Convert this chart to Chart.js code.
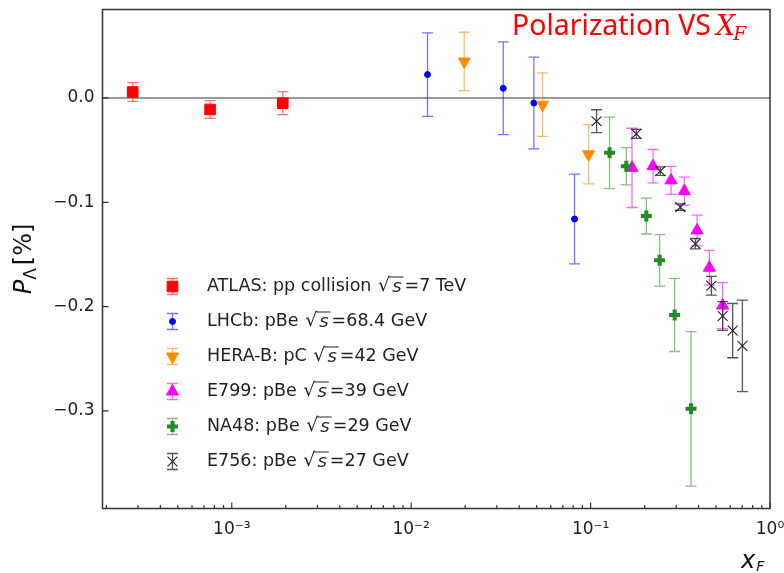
<!DOCTYPE html>
<html>
<head>
<meta charset="utf-8">
<script src="https://cdn.jsdelivr.net/npm/chart.js@4.4.1/dist/chart.umd.min.js"></script>
<style>
  html, body { margin: 0; padding: 0; background: #fff; }
  #wrap { width: 784px; height: 573px; }
</style>
</head>
<body>
<div id="wrap"><canvas id="polChart" width="784" height="573"></canvas></div>
<script>
// --- Du lieu doc tu hinh ---
const atlasX   = [2.805e-4, 7.57e-4, 1.925e-3];
const atlasY   = [0.0057, -0.011, -0.005];
const atlasErr = [0.009, 0.0085, 0.011];

const lhcbX   = [0.01233, 0.0326, 0.0483, 0.0814];
const lhcbY   = [0.0224, 0.0093, -0.0048, -0.116];
const lhcbErr = [0.040, 0.0445, 0.044, 0.043];

const herabX   = [0.01975, 0.054, 0.0975];
const herabY   = [0.035, -0.0064, -0.054];
const herabErr = [0.028, 0.0305, 0.0284];

const e799X   = [0.1702, 0.2229, 0.2808, 0.3332, 0.3922, 0.4592, 0.5447];
const e799Y   = [-0.067, -0.0654, -0.079, -0.0893, -0.127, -0.1627, -0.199];
const e799Err = [0.038, 0.016, 0.0135, 0.0135, 0.0147, 0.0167, 0.022];

const na48X   = [0.1276, 0.1581, 0.2045, 0.2425, 0.294, 0.3631];
const na48Y   = [-0.0526, -0.0654, -0.1132, -0.1556, -0.208, -0.298];
const na48Err = [0.0343, 0.0179, 0.0172, 0.0247, 0.035, 0.074];

const e756X   = [0.108, 0.1798, 0.2447, 0.3164, 0.3836, 0.471, 0.5447, 0.6194, 0.7017];
const e756Y   = [-0.0223, -0.0344, -0.0701, -0.1046, -0.1397, -0.180, -0.209, -0.223, -0.2376];
const e756Err = [0.011, 0.0043, 0.004, 0.003, 0.005, 0.009, 0.0137, 0.026, 0.0439];

const seriesNames  = ['ATLAS: pp collision ', 'LHCb: pBe ', 'HERA-B: pC ', 'E799: pBe ', 'NA48: pBe ', 'E756: pBe '];
const seriesEnergy = ['=7 TeV', '=68.4 GeV', '=42 GeV', '=39 GeV', '=29 GeV', '=27 GeV'];

const yTicks = [0, -0.1, -0.2, -0.3];
const xMajorTicks = [1e-3, 1e-2, 1e-1, 1];
const xMajorLabels = ['10\u207B\u00B3', '10\u207B\u00B2', '10\u207B\u00B9', '10\u2070'];

const X_MIN = 1.903e-4, X_MAX = 1.0;
const Y_MIN = -0.3935, Y_MAX = 0.0848;

// --- Kieu ve ---
const styles = [
    { color: '#ff0000', err: 'rgba(255,0,0,0.55)',   pointStyle: 'rect',     radius: 7.5, rotation: 0,   bw: 1 },
    { color: '#0000ff', err: 'rgba(0,0,255,0.55)',   pointStyle: 'circle',   radius: 3,   rotation: 0,   bw: 1 },
    { color: '#ff8c00', err: 'rgba(255,140,0,0.6)',  pointStyle: 'triangle', radius: 7,   rotation: 180, bw: 1 },
    { color: '#ff00ff', err: 'rgba(255,0,255,0.6)',  pointStyle: 'triangle', radius: 7,   rotation: 0,   bw: 1 },
    { color: '#228b22', err: 'rgba(34,139,34,0.55)', pointStyle: 'cross',    radius: 5.5, rotation: 0,   bw: 4 },
    { color: '#222222', err: 'rgba(30,30,30,0.75)',  pointStyle: 'crossRot', radius: 7,   rotation: 0,   bw: 1.1 }
];

const xs = [atlasX, lhcbX, herabX, e799X, na48X, e756X];
const ys = [atlasY, lhcbY, herabY, e799Y, na48Y, e756Y];
const errs = [atlasErr, lhcbErr, herabErr, e799Err, na48Err, e756Err];

const datasets = xs.map(function (xArr, i) {
    const st = styles[i];
    return {
        label: seriesNames[i] + '\u221As' + seriesEnergy[i],
        data: xArr.map((x, j) => ({ x: x, y: ys[i][j] })),
        errors: errs[i],
        pointStyle: st.pointStyle,
        pointRadius: st.radius,
        pointRotation: st.rotation,
        pointBorderWidth: st.bw,
        backgroundColor: st.color,
        borderColor: st.color,
        order: 5 - i
    };
});

// cac vach phu tren truc x (2..9 x 10^k)
const xMinorTicks = [];
for (let k = -4; k <= -1; k++) {
    for (let m = 2; m <= 9; m++) {
        const v = m * Math.pow(10, k);
        if (v >= X_MIN && v <= X_MAX) xMinorTicks.push(v);
    }
}

const FONT = '"DejaVu Sans", sans-serif';

// === Plugin: error bars, duong 0, khung, tieu de, legend ===
const physPlugin = {
    id: 'physPlugin',
    beforeDatasetsDraw(chart) {
        const { ctx, chartArea: a, scales: { y } } = chart;
        const y0 = y.getPixelForValue(0);
        ctx.save();
        ctx.strokeStyle = 'rgba(120,120,120,0.75)';
        ctx.lineWidth = 2;
        ctx.beginPath();
        ctx.moveTo(a.left, y0);
        ctx.lineTo(a.right, y0);
        ctx.stroke();
        ctx.restore();
    },
    beforeDatasetDraw(chart, args) {
        const ds = chart.data.datasets[args.index];
        const st = styles[args.index];
        const { ctx, chartArea: a, scales: { x, y } } = chart;
        ctx.save();
        ctx.beginPath();
        ctx.rect(a.left, a.top, a.right - a.left, a.bottom - a.top);
        ctx.clip();
        ctx.strokeStyle = st.err;
        ctx.lineWidth = 1.3;
        ds.data.forEach(function (p, j) {
            const px = x.getPixelForValue(p.x);
            const yt = y.getPixelForValue(p.y + ds.errors[j]);
            const yb = y.getPixelForValue(p.y - ds.errors[j]);
            ctx.beginPath();
            ctx.moveTo(px, yt); ctx.lineTo(px, yb);
            ctx.moveTo(px - 5.5, yt); ctx.lineTo(px + 5.5, yt);
            ctx.moveTo(px - 5.5, yb); ctx.lineTo(px + 5.5, yb);
            ctx.stroke();
        });
        ctx.restore();
    },
    afterDraw(chart) {
        const { ctx, chartArea: a, scales: { x, y } } = chart;
        ctx.save();

        // khung
        ctx.strokeStyle = '#333';
        ctx.lineWidth = 1.5;
        ctx.strokeRect(a.left, a.top, a.right - a.left, a.bottom - a.top);

        // vach chia huong vao trong
        ctx.lineWidth = 1.2;
        ctx.beginPath();
        xMajorTicks.forEach(function (v) {
            const px = x.getPixelForValue(v);
            ctx.moveTo(px, a.bottom); ctx.lineTo(px, a.bottom - 6);
        });
        xMinorTicks.forEach(function (v) {
            const px = x.getPixelForValue(v);
            ctx.moveTo(px, a.bottom); ctx.lineTo(px, a.bottom - 3.5);
        });
        yTicks.forEach(function (v) {
            const py = y.getPixelForValue(v);
            ctx.moveTo(a.left, py); ctx.lineTo(a.left + 6, py);
        });
        ctx.stroke();

        // tieu de
        ctx.fillStyle = '#ff0000';
        ctx.textBaseline = 'alphabetic';
        ctx.textAlign = 'left';
        ctx.font = '28.5px "Noto Sans", sans-serif';
        const tx = 512, ty = 35;
        ctx.fillText('Polarization VS', tx, ty);
        let w = ctx.measureText('Polarization VS').width + 5;
        ctx.font = 'italic 27px "DejaVu Serif", serif';
        ctx.fillText('X', tx + w, ty);
        w += ctx.measureText('X').width;
        ctx.font = 'italic 19px "DejaVu Serif", serif';
        ctx.fillText('F', tx + w - 2, ty + 5);

        // nhan truc y
        ctx.fillStyle = '#111';
        ctx.save();
        ctx.translate(31, (a.top + a.bottom) / 2);
        ctx.rotate(-Math.PI / 2);
        ctx.font = 'italic 24px ' + FONT;
        const pW = ctx.measureText('P').width;
        ctx.font = '17px ' + FONT;
        const lW = ctx.measureText('\u039B').width;
        ctx.font = '24px ' + FONT;
        const bW = ctx.measureText('[%]').width;
        let lx = -(pW + lW + bW + 3) / 2;
        ctx.font = 'italic 24px ' + FONT;
        ctx.fillText('P', lx, 0);
        lx += pW;
        ctx.font = '17px ' + FONT;
        ctx.fillText('\u039B', lx, 5);
        lx += lW + 3;
        ctx.font = '24px ' + FONT;
        ctx.fillText('[%]', lx, 0);
        ctx.restore();

        // nhan truc x
        ctx.font = 'italic 24px ' + FONT;
        ctx.fillText('x', 741, 568);
        const xw = ctx.measureText('x').width;
        ctx.font = 'italic 14px ' + FONT;
        ctx.fillText('F', 741 + xw + 1, 571);

        // legend
        const mx = 172.5, tx0 = 207, ly0 = 286.5, dy = 35;
        styles.forEach(function (st, i) {
            const cy = ly0 + i * dy;
            ctx.strokeStyle = st.err;
            ctx.lineWidth = 1.3;
            ctx.beginPath();
            ctx.moveTo(mx, cy - 8); ctx.lineTo(mx, cy + 8);
            ctx.moveTo(mx - 5.5, cy - 8); ctx.lineTo(mx + 5.5, cy - 8);
            ctx.moveTo(mx - 5.5, cy + 8); ctx.lineTo(mx + 5.5, cy + 8);
            ctx.stroke();
            ctx.fillStyle = st.color;
            ctx.strokeStyle = st.color;
            ctx.lineWidth = st.bw;
            Chart.helpers.drawPoint(ctx, {
                pointStyle: st.pointStyle, radius: st.radius, rotation: st.rotation, borderWidth: st.bw
            }, mx, cy);

            ctx.fillStyle = '#222';
            ctx.textBaseline = 'middle';
            ctx.font = '17.5px ' + FONT;
            let cx = tx0;
            ctx.fillText(seriesNames[i], cx, cy);
            cx += ctx.measureText(seriesNames[i]).width + 1;
            ctx.font = '19px ' + FONT;
            ctx.fillText('\u221A', cx, cy);
            const rw = ctx.measureText('\u221A').width;
            ctx.font = 'italic 18px ' + FONT;
            const sw = ctx.measureText('s').width;
            ctx.fillText('s', cx + rw + 2, cy + 1);
            ctx.strokeStyle = '#222';
            ctx.lineWidth = 1;
            ctx.beginPath();
            ctx.moveTo(cx + rw - 1, cy - 9.5);
            ctx.lineTo(cx + rw + sw + 4, cy - 9.5);
            ctx.stroke();
            cx += rw + sw + 5;
            ctx.font = '17.5px ' + FONT;
            ctx.fillText(seriesEnergy[i], cx, cy);
        });

        ctx.restore();
    }
};

const ctx = document.getElementById('polChart').getContext('2d');
const polChart = new Chart(ctx, {
    type: 'scatter',
    data: { datasets: datasets },
    options: {
        responsive: false,
        animation: false,
        devicePixelRatio: 1,
        layout: { padding: { top: 8, right: 14, left: 0, bottom: 0 } },
        plugins: {
            legend: { display: false },
            tooltip: { enabled: false }
        },
        scales: {
            x: {
                type: 'logarithmic',
                min: X_MIN,
                max: X_MAX,
                grid: { display: false, drawTicks: false },
                border: { display: false },
                afterBuildTicks: function (s) {
                    s.ticks = xMajorTicks.map(v => ({ value: v }));
                },
                afterFit: function (s) {
                    s.height = 64.5;
                    s.paddingLeft = 0; s.paddingRight = 0;
                },
                ticks: {
                    autoSkip: false,
                    maxRotation: 0,
                    padding: 11,
                    color: '#222',
                    font: { family: 'DejaVu Sans', size: 17 },
                    callback: function (v) {
                        const k = xMajorTicks.indexOf(v);
                        return k >= 0 ? xMajorLabels[k] : '';
                    }
                }
            },
            y: {
                min: Y_MIN,
                max: Y_MAX,
                grid: { display: false, drawTicks: false },
                border: { display: false },
                afterBuildTicks: function (s) {
                    s.ticks = yTicks.map(v => ({ value: v }));
                },
                afterFit: function (s) {
                    s.width = 102.5;
                    s.paddingTop = 0; s.paddingBottom = 0;
                },
                ticks: {
                    padding: 8,
                    color: '#222',
                    font: { family: 'DejaVu Sans', size: 17 },
                    callback: function (v) {
                        return v === 0 ? '0.0' : '\u2212' + Math.abs(v).toFixed(1);
                    }
                }
            }
        }
    },
    plugins: [physPlugin]
});
</script>
</body>
</html>
